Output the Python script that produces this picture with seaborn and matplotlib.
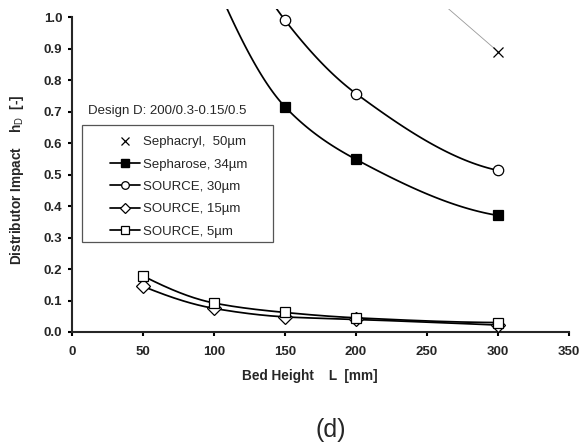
import numpy as np
import pandas as pd
import matplotlib
matplotlib.use("Agg")
import matplotlib.pyplot as plt
import matplotlib.patches as mpatches
import seaborn as sns
from matplotlib.lines import Line2D

# ---- data ----
sephacryl_x = [200, 300]
sephacryl_y = [1.28, 0.89]
sepharose_x = [100, 150, 200, 300]
sepharose_y = [1.12, 0.715, 0.548, 0.370]
source30_x = [100, 150, 200, 300]
source30_y = [1.38, 0.990, 0.757, 0.513]
source15_x = [50, 100, 150, 200, 300]
source15_y = [0.145, 0.075, 0.048, 0.040, 0.022]
source5_x = [50, 100, 150, 200, 300]
source5_y = [0.178, 0.092, 0.062, 0.045, 0.030]

labels = ["Sephacryl,  50\u00b5m", "Sepharose, 34\u00b5m", "SOURCE, 30\u00b5m",
          "SOURCE, 15\u00b5m", "SOURCE, 5\u00b5m"]
x_ticks = [0, 50, 100, 150, 200, 250, 300, 350]
y_ticks = [0.0, 0.1, 0.2, 0.3, 0.4, 0.5, 0.6, 0.7, 0.8, 0.9, 1.0]

W, H = 583, 443


def smooth(xs, ys, n=40):
    """Shape-preserving cubic Hermite curve through the data points (smoothed line)."""
    x = np.asarray(xs, float)
    y = np.asarray(ys, float)
    h = np.diff(x)
    d = np.diff(y) / h
    m = np.zeros_like(y)
    for i in range(1, len(x) - 1):
        if d[i - 1] * d[i] > 0:
            w1 = 2 * h[i] + h[i - 1]
            w2 = h[i] + 2 * h[i - 1]
            m[i] = (w1 + w2) / (w1 / d[i - 1] + w2 / d[i])
    m[0] = ((2 * h[0] + h[1]) * d[0] - h[0] * d[1]) / (h[0] + h[1]) if len(x) > 2 else d[0]
    if np.sign(m[0]) != np.sign(d[0]):
        m[0] = 0
    m[-1] = ((2 * h[-1] + h[-2]) * d[-1] - h[-1] * d[-2]) / (h[-1] + h[-2]) if len(x) > 2 else d[-1]
    if np.sign(m[-1]) != np.sign(d[-1]):
        m[-1] = 0
    X, Y = [], []
    for i in range(len(x) - 1):
        t = np.linspace(0, 1, n)
        h00 = 2 * t ** 3 - 3 * t ** 2 + 1
        h10 = t ** 3 - 2 * t ** 2 + t
        h01 = -2 * t ** 3 + 3 * t ** 2
        h11 = t ** 3 - t ** 2
        X.append(x[i] + t * h[i])
        Y.append(h00 * y[i] + h10 * h[i] * m[i] + h01 * y[i + 1] + h11 * h[i] * m[i + 1])
    return np.concatenate(X), np.concatenate(Y)


sns.set_style("ticks")
plt.rcParams['font.family'] = ['Liberation Sans', 'DejaVu Sans']
plt.rcParams['mathtext.fontset'] = 'custom'
plt.rcParams['mathtext.sf'] = 'Liberation Sans'
plt.rcParams['mathtext.rm'] = 'Liberation Sans'

fig = plt.figure(figsize=(W / 100, H / 100), dpi=100)
ax = fig.add_axes([72 / W, 111 / H, 497 / W, 323.5 / H])

LW = 1.25

# Sephacryl: thin gray line + x marker
sns.lineplot(x=sephacryl_x, y=sephacryl_y, ax=ax, color="#999999", lw=0.6,
             sort=False, estimator=None)
ax.plot(sephacryl_x, sephacryl_y, ls="none", marker="x", ms=6.5, mew=0.9, color="black")

series = [
    (sepharose_x, sepharose_y, "s", "black"),
    (source30_x, source30_y, "o", "white"),
    (source15_x, source15_y, "D", "white"),
    (source5_x, source5_y, "s", "white"),
]
sizes = {"s": 6.5, "o": 7.5, "D": 6.8}
for xs, ys, m, fc in series:
    sx, sy = smooth(xs, ys)
    sns.lineplot(x=sx, y=sy, ax=ax, color="black", lw=LW, sort=False, estimator=None)
    ax.plot(xs, ys, ls="none", marker=m, ms=sizes[m], mfc=fc, mec="black", mew=0.9,
            zorder=5, clip_on=(m == "o"))

ax.set_xlim(0, 350)
ax.set_ylim(0, 1.027)
ax.set_xticks(x_ticks)
ax.set_yticks(y_ticks)
ax.set_xticklabels([str(v) for v in x_ticks], fontsize=9.5, fontweight="bold")
ax.set_yticklabels([f"{v:.1f}" for v in y_ticks], fontsize=9.5, fontweight="bold")
ax.spines["top"].set_visible(False)
ax.spines["right"].set_visible(False)
ax.spines["left"].set_bounds(0, 1.0)
ax.spines["left"].set_linewidth(1.5)
ax.spines["bottom"].set_linewidth(1.5)
ax.tick_params(axis="both", direction="out", length=3, width=1.5, color="black", pad=4)
ax.tick_params(axis="x", pad=7)

ax.set_xlabel("Bed Height    L  [mm]", fontsize=9.8, fontweight="bold")
ax.xaxis.set_label_coords((310 - 72) / 497, -(369 - 332) / 323.5)
ax.set_ylabel("Distributor Impact    h$_{\\mathsf{D}}$  [-]", fontsize=9.8,
              fontweight="bold")
ax.yaxis.set_label_coords(-(72 - 26) / 497, (332 - 180) / 323.5)

fig.text(88 / W, 1 - 111 / H, "Design D: 200/0.3-0.15/0.5", fontsize=9.5,
         va="center", ha="left")

handles = [
    Line2D([], [], ls="none", marker="x", ms=6, mew=0.9, color="black"),
    Line2D([], [], color="black", lw=LW, marker="s", ms=5.5, mfc="black", mec="black"),
    Line2D([], [], color="black", lw=LW, marker="o", ms=5.5, mfc="white", mec="black", mew=0.9),
    Line2D([], [], color="black", lw=LW, marker="D", ms=5, mfc="white", mec="black", mew=0.9),
    Line2D([], [], color="black", lw=LW, marker="s", ms=5.5, mfc="white", mec="black", mew=0.9),
]
ax.legend(handles, labels, loc="upper left", bbox_to_anchor=(110 / W, 1 - 136 / H),
          bbox_transform=fig.transFigure, fontsize=9.5, frameon=False,
          handlelength=2.27, labelspacing=0.77, borderpad=0, handletextpad=0.25,
          borderaxespad=0)
fig.patches.append(mpatches.Rectangle((82 / W, 1 - 242 / H), 191 / W, 117 / H,
                                      transform=fig.transFigure, fill=False,
                                      edgecolor="#555555", lw=0.9))

fig.text(331 / W, 1 - 430 / H, "(d)", fontsize=18, ha="center", va="center")

fig.savefig("out.png", dpi=100)
